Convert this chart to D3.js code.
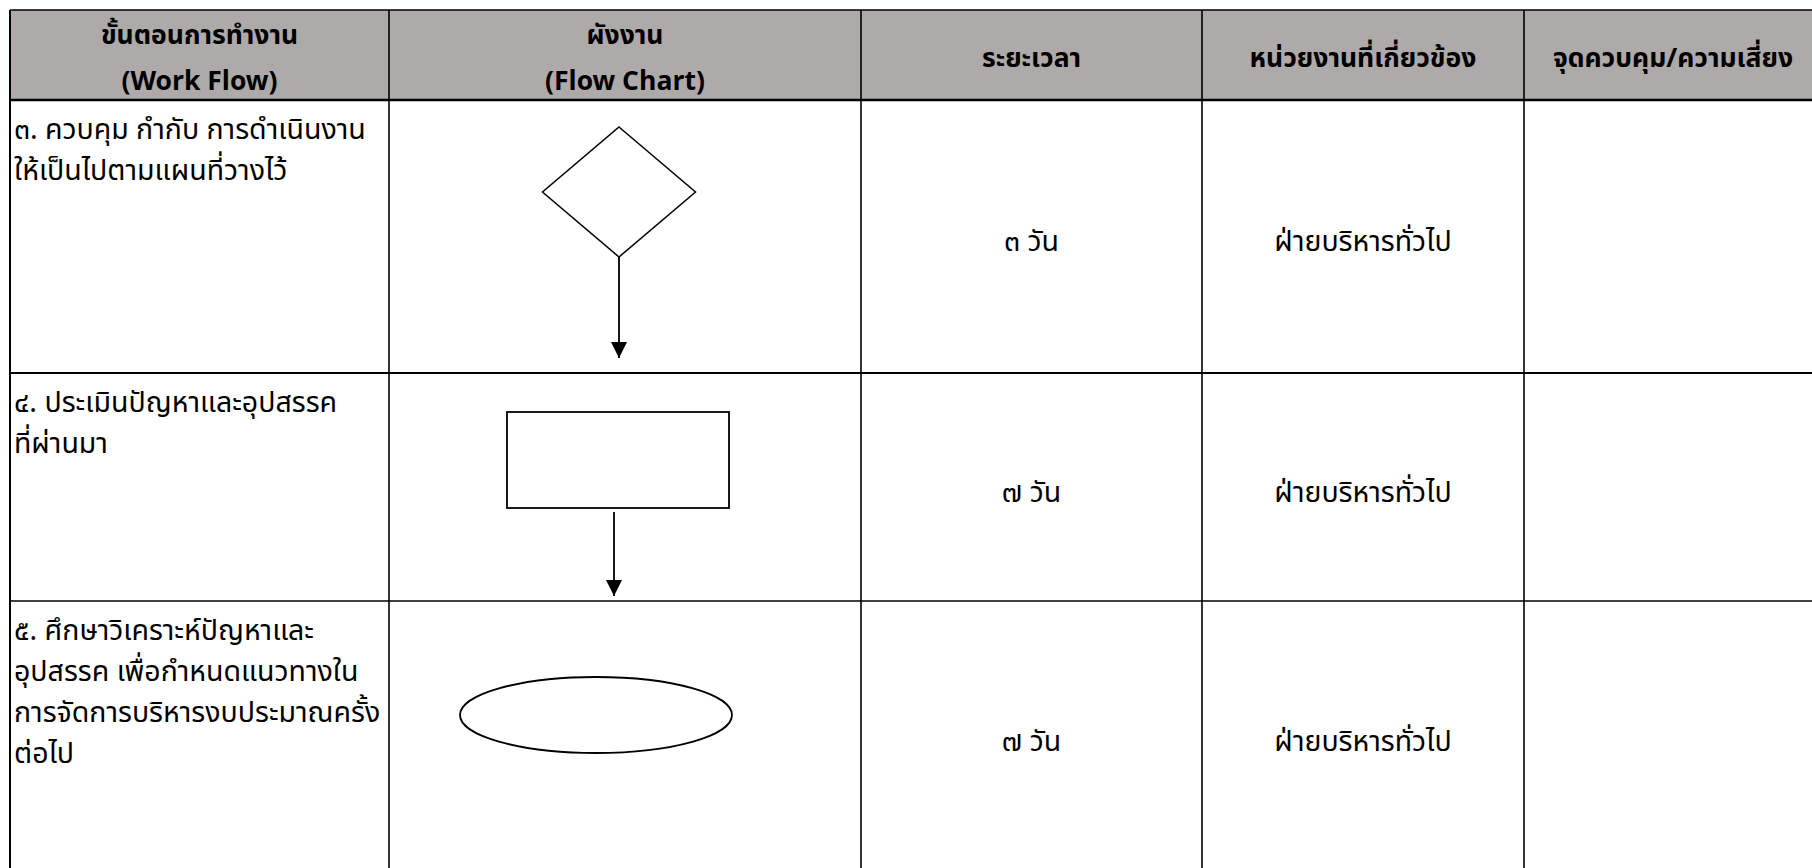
<!DOCTYPE html>
<html>
<head>
<meta charset="utf-8">
<script src="https://cdn.jsdelivr.net/npm/d3@7"></script>
<style>
  html, body { margin: 0; padding: 0; background: #fff; overflow: hidden; }
  svg { display: block; }
  .hdr { font-family: "Noto Sans Thai", "Noto Sans", sans-serif; font-weight: 700; font-size: 26.5px; fill: #000; }
  .body { font-family: "Noto Sans Thai", "Noto Sans", sans-serif; font-size: 28.5px; fill: #000; }
</style>
</head>
<body>
<svg id="chart" width="1812" height="868"></svg>
<script>
// ---- data ----
const headerLines = [
  ["ขั้นตอนการทำงาน", "(Work Flow)"],
  ["ผังงาน", "(Flow Chart)"],
  ["ระยะเวลา"],
  ["หน่วยงานที่เกี่ยวข้อง"],
  ["จุดควบคุม/ความเสี่ยง"]
];
const stepLines = [
  ["๓. ควบคุม กำกับ การดำเนินงาน", "ให้เป็นไปตามแผนที่วางไว้"],
  ["๔. ประเมินปัญหาและอุปสรรค", "ที่ผ่านมา"],
  ["๕. ศึกษาวิเคราะห์ปัญหาและ", "อุปสรรค เพื่อกำหนดแนวทางใน", "การจัดการบริหารงบประมาณครั้ง", "ต่อไป"]
];
const shapeTypes = ["diamond", "rect", "ellipse"];
const hasArrow = [true, true, false];
const durations = ["๓ วัน", "๗ วัน", "๗ วัน"];
const units = ["ฝ่ายบริหารทั่วไป", "ฝ่ายบริหารทั่วไป", "ฝ่ายบริหารทั่วไป"];
const controls = ["", "", ""];

// ---- layout ----
const colEdges = [10, 389, 861, 1202, 1524, 1812];
const rowEdges = [10, 100, 373, 601, 872];
const headerFill = "#aeaaaa";

const svg = d3.select("#chart");
const x = d3.scaleOrdinal().domain(d3.range(colEdges.length)).range(colEdges);
const y = d3.scaleOrdinal().domain(d3.range(rowEdges.length)).range(rowEdges);
const nCols = colEdges.length - 1;
const nRows = rowEdges.length - 1;
const colMid = i => (x(i) + x(i + 1)) / 2;
const rowMid = r => (y(r) + y(r + 1)) / 2;

// header background
svg.append("rect")
  .attr("x", x(0)).attr("y", y(0))
  .attr("width", x(nCols) + 10 - x(0)).attr("height", y(1) - y(0))
  .attr("fill", headerFill);

// header text
const hdr = svg.append("g");
headerLines.forEach((lines, i) => {
  const cx = i === nCols - 1 ? colMid(i) + 5 : colMid(i);
  lines.forEach((t, k) => {
    const ty = lines.length === 1 ? 59 : 36 + k * 46;
    hdr.append("text")
      .attr("class", "hdr")
      .attr("x", cx)
      .attr("y", ty)
      .attr("text-anchor", "middle")
      .attr("dominant-baseline", "central")
      .text(t);
  });
});

// body rows
stepLines.forEach((lines, r) => {
  const top = y(r + 1);
  lines.forEach((t, k) => {
    svg.append("text")
      .attr("class", "body")
      .attr("x", x(0) + 4)
      .attr("y", top + 30 + k * 41)
      .attr("dominant-baseline", "central")
      .text(t);
  });
  svg.append("text").attr("class", "body")
    .attr("x", colMid(2)).attr("y", rowMid(r + 1) + 6)
    .attr("text-anchor", "middle").attr("dominant-baseline", "central")
    .text(durations[r]);
  svg.append("text").attr("class", "body")
    .attr("x", colMid(3)).attr("y", rowMid(r + 1) + 6)
    .attr("text-anchor", "middle").attr("dominant-baseline", "central")
    .text(units[r]);
  svg.append("text").attr("class", "body")
    .attr("x", colMid(4)).attr("y", rowMid(r + 1) + 6)
    .attr("text-anchor", "middle").attr("dominant-baseline", "central")
    .text(controls[r]);
});

// flowchart shapes
const defs = svg.append("defs");
defs.append("marker")
  .attr("id", "arrowhead")
  .attr("viewBox", "0 0 16 16")
  .attr("refX", 16).attr("refY", 8)
  .attr("markerWidth", 16).attr("markerHeight", 16)
  .attr("markerUnits", "userSpaceOnUse")
  .attr("orient", "auto")
  .append("path").attr("d", "M0,0 L16,8 L0,16 Z").attr("fill", "#000");

const shapeG = svg.append("g").attr("fill", "none").attr("stroke", "#000");
shapeTypes.forEach((s, r) => {
  const top = y(r + 1);
  const cx = colMid(1);
  if (s === "diamond") {
    const mx = cx - 6, t = top + 27, h = 130, w = 153;
    shapeG.append("path")
      .attr("d", `M${mx},${t} L${mx + w / 2},${t + h / 2} L${mx},${t + h} L${mx - w / 2},${t + h / 2} Z`)
      .attr("fill", "#fff").attr("stroke-width", 1.5);
    if (hasArrow[r]) {
      shapeG.append("line")
        .attr("x1", mx).attr("y1", t + h).attr("x2", mx).attr("y2", y(r + 2) - 15)
        .attr("stroke-width", 1.8).attr("marker-end", "url(#arrowhead)");
    }
  } else if (s === "rect") {
    const mx = cx - 7, t = top + 39, h = 96, w = 222;
    shapeG.append("rect")
      .attr("x", mx - w / 2).attr("y", t).attr("width", w).attr("height", h)
      .attr("fill", "#fff").attr("stroke-width", 1.8);
    if (hasArrow[r]) {
      shapeG.append("line")
        .attr("x1", mx - 4).attr("y1", t + h + 4).attr("x2", mx - 4).attr("y2", y(r + 2) - 5)
        .attr("stroke-width", 1.8).attr("marker-end", "url(#arrowhead)");
    }
  } else if (s === "ellipse") {
    shapeG.append("ellipse")
      .attr("cx", cx - 29).attr("cy", top + 114)
      .attr("rx", 136).attr("ry", 38)
      .attr("fill", "#fff").attr("stroke-width", 1.8);
  }
});

// grid lines
const grid = svg.append("g").attr("stroke", "#000");
rowEdges.forEach((ry, r) => {
  if (r === nRows) return;
  grid.append("line")
    .attr("x1", x(0)).attr("x2", x(nCols) + 10)
    .attr("y1", ry).attr("y2", ry)
    .attr("stroke-width", r === 1 ? 2.5 : (r === 2 ? 2 : 1.5));
});
colEdges.forEach((cx, i) => {
  if (i === nCols) return;
  grid.append("line")
    .attr("x1", cx).attr("x2", cx)
    .attr("y1", y(0)).attr("y2", 868 + 10)
    .attr("stroke-width", i === 0 ? 2 : 1.6);
});
</script>
</body>
</html>
